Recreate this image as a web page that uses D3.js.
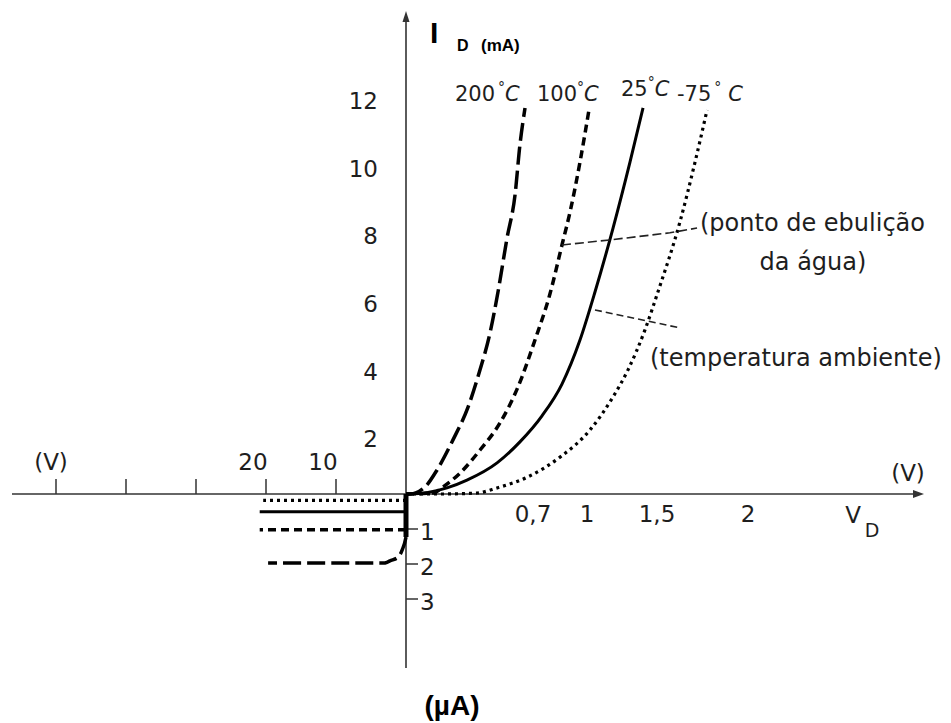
<!DOCTYPE html>
<html>
<head>
<meta charset="utf-8">
<script src="https://cdn.jsdelivr.net/npm/d3@7"></script>
<style>
body { margin: 0; background: #fff; }
text { font-family: "DejaVu Sans", sans-serif; fill: #1e1e1e; }
.bold { font-family: "Liberation Sans", Arial, sans-serif; font-weight: bold; fill: #000; }
</style>
</head>
<body>
<svg id="chart" width="951" height="723"></svg>
<script>
// forward curves: [V_D (V), I_D (mA)]
var fwd_200 = [[0,0],[0.022,0],[0.105,0.21],[0.171,0.71],[0.259,1.60],[0.342,2.57],[0.408,3.67],[0.463,4.76],[0.507,5.97],[0.557,7.57],[0.601,8.84],[0.628,10.32],[0.656,11.41]]
var fwd_100 = [[0,0],[0.149,0.03],[0.204,0.21],[0.298,0.62],[0.408,1.30],[0.518,2.10],[0.617,3.16],[0.711,4.55],[0.794,5.91],[0.861,7.36],[0.906,8.34],[0.961,9.81],[1.014,11.35]]
var fwd_25 = [[0,0],[0.022,0],[0.226,0.18],[0.336,0.41],[0.502,0.92],[0.628,1.54],[0.75,2.31],[0.861,3.25],[0.961,4.55],[1.057,5.97],[1.186,7.86],[1.307,9.81],[1.4,11.41]]
var fwd_m75 = [[0,0],[0.187,0],[0.391,0.03],[0.502,0.18],[0.669,0.50],[0.85,1.09],[1.021,1.89],[1.186,2.87],[1.293,3.67],[1.414,4.85],[1.505,5.97],[1.626,8.04],[1.709,9.81],[1.775,11.35]]

// reverse curves: [|V| (V), |I| (uA)]
var rev_200 = [[0,1.23],[0.43,1.54],[1.29,1.83],[2.29,1.91],[3,1.97],[19.7,1.97]]
var rev_100 = [[0,1.02],[20.9,1.02]]
var rev_25 = [[0,0],[0,0.51],[20.9,0.51]]
var rev_m75 = [[0,0.18],[20.4,0.18]]
var rev_knee = [[0,0],[0,1.23]]

var yTicks = [2, 4, 6, 8, 10, 12]
var xTicks = [0.7, 1, 1.5, 2]
var xTickLabels = ['0,7', '1', '1,5', '2']
var revTicks = [10, 20, 30, 40, 50]
var revTickLabels = ['10', '20', '', '', '(V)']
var uaTicks = [1, 2, 3]
var tempLabels = ['200', '100', '25', '-75']

var leader_boil = [[0.861,7.36],[1.164,7.51],[1.571,7.72],[1.72,7.86]]
var leader_amb = [[1.057,5.44],[1.626,4.91]]

var svg = d3.select('#chart')

var x = d3.scaleLinear().domain([0, 0.7, 1, 1.5, 2]).range([406, 533, 587, 657, 748])
var y = d3.scaleLinear().domain([0, 12]).range([494, 88])
var xr = d3.scaleLinear().domain([0, 50]).range([406, 56])
var yr = d3.scaleLinear().domain([0, 3]).range([494, 599])

var fwdLine = d3.line().x(d => x(d[0])).y(d => y(d[1])).curve(d3.curveMonotoneX)
var revLine = d3.line().x(d => xr(d[0])).y(d => yr(d[1])).curve(d3.curveMonotoneY)
var revStraight = d3.line().x(d => xr(d[0])).y(d => yr(d[1]))

// axes
var axisColor = '#333'
svg.append('line').attr('x1', 12).attr('x2', 918).attr('y1', y(0)).attr('y2', y(0))
    .attr('stroke', axisColor).attr('stroke-width', 1.6)
svg.append('path').attr('d', 'M924,' + y(0) + 'l-11,-4l0,8z').attr('fill', axisColor)
svg.append('line').attr('x1', x(0)).attr('x2', x(0)).attr('y1', 668).attr('y2', 18)
    .attr('stroke', axisColor).attr('stroke-width', 1.6)
svg.append('path').attr('d', 'M' + x(0) + ',11l-3.5,11l7,0z').attr('fill', axisColor)

svg.selectAll('.revtick')
    .data(revTicks)
    .join('line')
    .attr('x1', d => xr(d)).attr('x2', d => xr(d))
    .attr('y1', y(0)).attr('y2', y(0) - 15)
    .attr('stroke', axisColor).attr('stroke-width', 1.5)

svg.selectAll('.uatick')
    .data(uaTicks)
    .join('line')
    .attr('x1', x(0)).attr('x2', x(0) + 12)
    .attr('y1', d => yr(d)).attr('y2', d => yr(d))
    .attr('stroke', axisColor).attr('stroke-width', 1.5)

// tick labels
svg.selectAll('.ylab')
    .data(yTicks)
    .join('text')
    .attr('x', 378).attr('y', d => y(d) + 13)
    .attr('text-anchor', 'end').attr('dominant-baseline', 'central')
    .style('font-size', '23px')
    .text(d => d)

svg.selectAll('.xlab')
    .data(xTicks)
    .join('text')
    .attr('x', d => x(d)).attr('y', 514)
    .attr('text-anchor', 'middle').attr('dominant-baseline', 'central')
    .style('font-size', '23px')
    .text((d, i) => xTickLabels[i])

svg.selectAll('.rlab')
    .data(revTicks)
    .join('text')
    .attr('x', (d, i) => xr(d) - (i == 4 ? 5 : 13)).attr('y', 462)
    .attr('text-anchor', 'middle').attr('dominant-baseline', 'central')
    .style('font-size', '23px')
    .text((d, i) => revTickLabels[i])

svg.selectAll('.ualab')
    .data(uaTicks)
    .join('text')
    .attr('x', x(0) + 14).attr('y', d => yr(d) + 3)
    .attr('dominant-baseline', 'central')
    .style('font-size', '23px')
    .text(d => d)

svg.append('text').attr('x', 908).attr('y', 473)
    .attr('text-anchor', 'middle').attr('dominant-baseline', 'central')
    .style('font-size', '23px').text('(V)')
svg.append('text').attr('x', 853).attr('y', 515)
    .attr('text-anchor', 'middle').attr('dominant-baseline', 'central')
    .style('font-size', '23px').text('V')
svg.append('text').attr('x', 872).attr('y', 530)
    .attr('text-anchor', 'middle').attr('dominant-baseline', 'central')
    .style('font-size', '19px').text('D')

// axis titles
svg.append('text').attr('class', 'bold').attr('x', 430).attr('y', 43)
    .style('font-size', '30px').text('I')
svg.append('text').attr('class', 'bold').attr('x', 457).attr('y', 51)
    .style('font-size', '16px').text('D')
svg.append('text').attr('class', 'bold').attr('x', 481).attr('y', 51)
    .style('font-size', '17px').text('(mA)')
svg.append('text').attr('class', 'bold').attr('x', 452).attr('y', 715)
    .attr('text-anchor', 'middle')
    .style('font-size', '28px').text('(\u00b5A)')

// curves
var styles = [
    {fwd: fwd_200, rev: rev_200, dash: '18,6', w: 3.5},
    {fwd: fwd_100, rev: rev_100, dash: '8,5', w: 3.5},
    {fwd: fwd_25, rev: rev_25, dash: null, w: 3},
    {fwd: fwd_m75, rev: rev_m75, dash: '3,4', w: 3.2}
]

svg.append('path')
    .attr('d', revStraight(rev_knee))
    .attr('fill', 'none').attr('stroke', '#000').attr('stroke-width', 5)

styles.forEach(function (s, i) {
    svg.append('path')
        .attr('d', fwdLine(s.fwd))
        .attr('fill', 'none').attr('stroke', '#000')
        .attr('stroke-width', s.w)
        .attr('stroke-dasharray', s.dash)
    svg.append('path')
        .attr('d', i == 0 ? revLine(s.rev) : revStraight(s.rev))
        .attr('fill', 'none').attr('stroke', '#000')
        .attr('stroke-width', s.w)
        .attr('stroke-dasharray', s.dash)
})

// temperature labels
var tempX = [455, 537, 621, 677]
var tempY = [101, 101, 96, 101]
tempLabels.forEach(function (t, i) {
    var tx = svg.append('text').attr('x', tempX[i]).attr('y', tempY[i])
        .style('font-size', '21px')
    tx.append('tspan').text(t)
    tx.append('tspan').attr('dx', i == 0 || i == 3 ? 3 : 0).attr('dy', -9)
        .style('font-size', '14px').text('\u00b0')
    tx.append('tspan').attr('dx', i == 3 ? 7 : 0).attr('dy', 9)
        .style('font-style', 'italic').text('C')
})

// annotations
var leader = d3.line().x(d => x(d[0])).y(d => y(d[1]))
svg.append('path').attr('d', leader(leader_boil))
    .attr('fill', 'none').attr('stroke', '#222').attr('stroke-width', 1.6)
    .attr('stroke-dasharray', '9,4')
svg.append('path').attr('d', leader(leader_amb))
    .attr('fill', 'none').attr('stroke', '#222').attr('stroke-width', 1.6)
    .attr('stroke-dasharray', '7,4')

svg.append('text').attr('x', 700).attr('y', 223)
    .attr('dominant-baseline', 'central')
    .style('font-size', '24px').text('(ponto de ebulição')
svg.append('text').attr('x', 813).attr('y', 262)
    .attr('text-anchor', 'middle').attr('dominant-baseline', 'central')
    .style('font-size', '24px').text('da água)')
svg.append('text').attr('x', 650).attr('y', 358)
    .attr('dominant-baseline', 'central')
    .style('font-size', '24px').text('(temperatura ambiente)')
</script>
</body>
</html>
